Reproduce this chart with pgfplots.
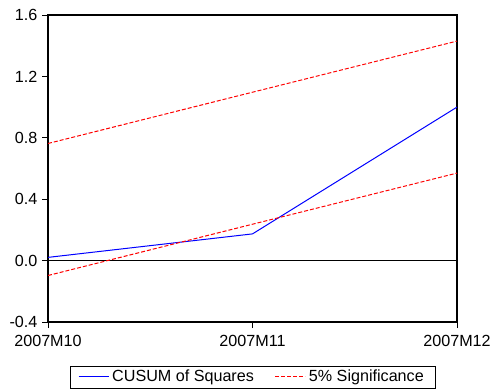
\documentclass[border=0pt]{standalone}
\usepackage{fontspec}
\setmainfont{Liberation Sans}
\usepackage{pgfplots}
\pgfplotsset{compat=1.18}
\begin{document}
\fontsize{16.2}{19}\selectfont
\begin{tikzpicture}[x=1bp,y=1bp]
\path[use as bounding box] (0,0) rectangle (493,391);
\begin{axis}[
  at={(48bp,69bp)}, anchor=south west,
  scale only axis, width=409bp, height=307bp,
  xmin=0, xmax=2, ymin=-0.4, ymax=1.6,
  xtick={0,1,2}, xticklabels={2007M10,2007M11,2007M12},
  ytick={-0.4,0,0.4,0.8,1.2,1.6},
  yticklabel style={xshift=1bp,/pgf/number format/.cd,fixed,fixed zerofill,precision=1,assume math mode=true},
  tick label style={font=\fontsize{16.2}{19}\selectfont},
  xtick pos=bottom, ytick pos=left, tick align=outside,
  major tick length=6bp,
  axis line style={line width=1.1pt},
  tick style={line width=0.8pt, black},
  xticklabel style={yshift=-2bp},
  legend image code/.code={\draw[#1] (0bp,0bp) -- (30bp,0bp);},
  legend style={at={(0.5,-0.179)}, anchor=center, legend columns=2,
    font=\fontsize{16.2}{19}\selectfont,
    /tikz/every even column/.append style={column sep=18bp},
    inner xsep=8bp, inner ysep=1bp, nodes={inner xsep=3bp, inner ysep=3bp}},
  legend cell align=left,
]
\draw[black, line width=0.7pt] (axis cs:0,0) -- (axis cs:2,0);
\addplot[blue, line width=1bp, mark=none] coordinates {(0,0.021) (1,0.174) (2,1.0)};
\addlegendentry{CUSUM of Squares}
\addplot[red, line width=1bp, dash pattern=on 4bp off 2bp, mark=none] coordinates {(0,0.763) (1,1.097) (2,1.43)};
\addlegendentry{5\% Significance}
\addplot[red, line width=1bp, dash pattern=on 4bp off 2bp, mark=none, forget plot] coordinates {(0,-0.097) (1,0.237) (2,0.57)};
\end{axis}
\end{tikzpicture}
\end{document}
